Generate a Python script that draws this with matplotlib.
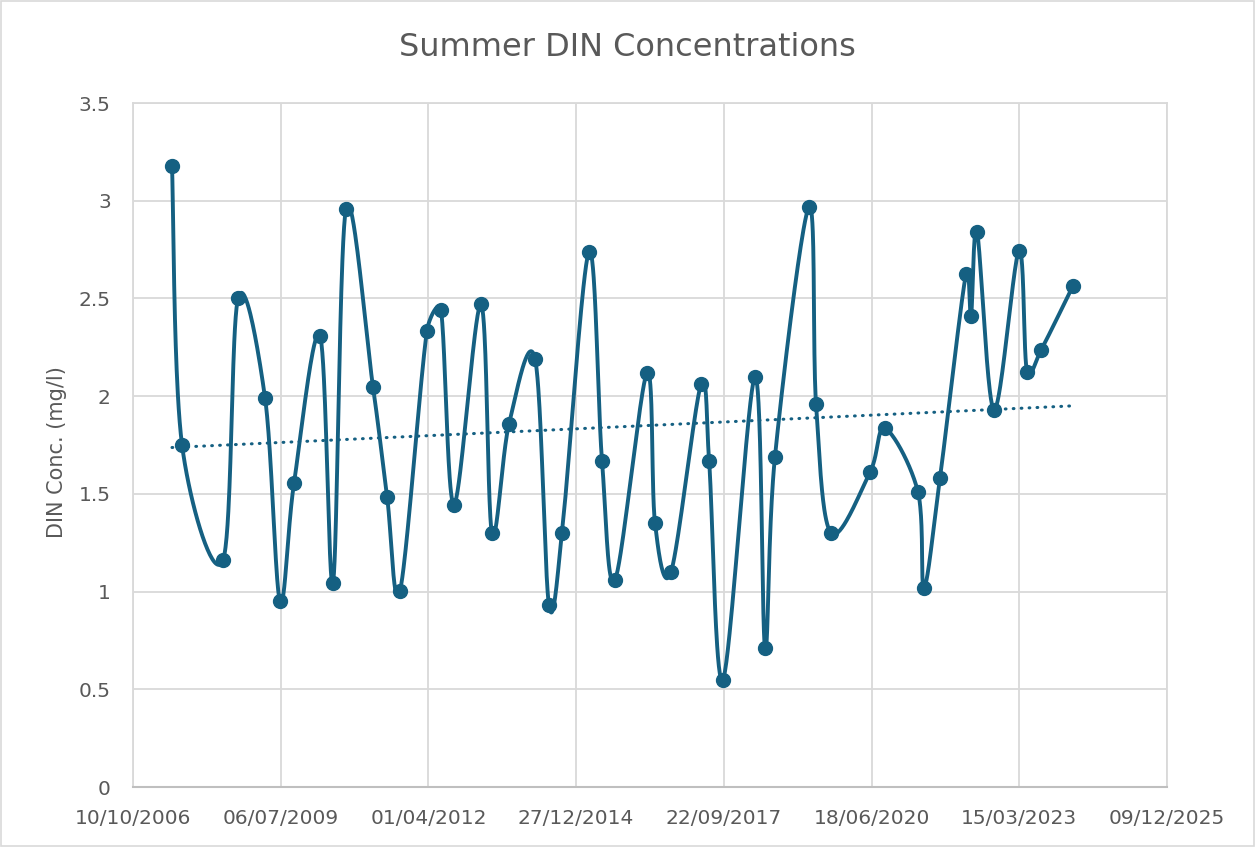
import numpy as np
import pandas as pd
import matplotlib
matplotlib.use('Agg')
import matplotlib.pyplot as plt
import matplotlib.dates as mdates
from matplotlib.patches import Rectangle

# sample dates and summer DIN concentrations (mg/l)
sample_dates = [
    '2007-07-01', '2007-09-07', '2008-06-10', '2008-09-20', '2009-03-22',
    '2009-07-01', '2009-10-04', '2010-03-29', '2010-06-25', '2010-09-21',
    '2011-03-23', '2011-06-26', '2011-09-22', '2012-03-22', '2012-06-25',
    '2012-09-21', '2013-03-23', '2013-06-05', '2013-09-29', '2014-03-24',
    '2014-06-26', '2014-09-22', '2015-03-24', '2015-06-20', '2015-09-16',
    '2016-04-20', '2016-06-13', '2016-09-29', '2017-04-20', '2017-06-14',
    '2017-09-16', '2018-04-21', '2018-06-28', '2018-09-03', '2019-04-22',
    '2019-06-08', '2019-09-17', '2020-06-07', '2020-09-17', '2021-04-28',
    '2021-06-08', '2021-09-24', '2022-03-19', '2022-04-22', '2022-06-02',
    '2022-09-25', '2023-03-13', '2023-05-06', '2023-08-09', '2024-03-13',
]
din_conc = [
    3.18, 1.75, 1.16, 2.50, 1.99,
    0.95, 1.555, 2.31, 1.045, 2.96,
    2.045, 1.485, 1.005, 2.335, 2.44,
    1.445, 2.47, 1.30, 1.86, 2.19,
    0.93, 1.30, 2.74, 1.67, 1.06,
    2.12, 1.35, 1.10, 2.06, 1.67,
    0.55, 2.10, 0.71, 1.69, 2.97,
    1.96, 1.30, 1.61, 1.835, 1.51,
    1.02, 1.58, 2.625, 2.41, 2.84,
    1.93, 2.745, 2.125, 2.235, 2.565,
]

axis_start = '2006-10-10'
axis_end = '2025-12-09'
tick_step_days = 1000
y_ticks = [0, 0.5, 1, 1.5, 2, 2.5, 3, 3.5]

line_color = '#156082'
grid_color = '#D9D9D9'
text_color = '#595959'

W, H = 1255, 847
ax_left, ax_right, ax_top, ax_bottom = 133, 1167, 103, 787


def smooth_curve(px, py, n=40):
    # bezier smoothing like a spreadsheet "smoothed line":
    # control offsets are 1/6 of the neighbour chord, capped at half the segment
    px = np.concatenate([[px[0]], px, [px[-1]]])
    py = np.concatenate([[py[0]], py, [py[-1]]])
    P = np.column_stack([px, py])
    t = np.linspace(0, 1, n)[:, None]
    out = []
    for i in range(1, len(P) - 2):
        p0, p1, p2, p3 = P[i - 1], P[i], P[i + 1], P[i + 2]
        d12 = np.hypot(*(p2 - p1))
        d02 = np.hypot(*(p2 - p0))
        d13 = np.hypot(*(p3 - p1))
        f = 1 / 6 if d02 / 6 < d12 / 2 or d02 == 0 else d12 / 2 / d02
        g = 1 / 6 if d13 / 6 < d12 / 2 or d13 == 0 else d12 / 2 / d13
        c1 = p1 + (p2 - p0) * f
        c2 = p2 - (p3 - p1) * g
        seg = ((1 - t) ** 3) * p1 + 3 * ((1 - t) ** 2) * t * c1 \
            + 3 * (1 - t) * t ** 2 * c2 + t ** 3 * p2
        out.append(seg)
    out = np.vstack(out)
    return out[:, 0], out[:, 1]


x = mdates.date2num(pd.to_datetime(sample_dates))
y = np.array(din_conc)
x0 = mdates.date2num(pd.Timestamp(axis_start))
x1 = mdates.date2num(pd.Timestamp(axis_end))
y0, y1 = 0, 3.5

# smoothing is done in screen pixels, then mapped back to data units
sx_pix = (ax_right - ax_left) / (x1 - x0)
sy_pix = (ax_bottom - ax_top) / (y1 - y0)
cx, cy = smooth_curve((x - x0) * sx_pix, (y - y0) * sy_pix)
sx = cx / sx_pix + x0
sy = cy / sy_pix + y0

fig = plt.figure(figsize=(W / 100, H / 100), dpi=100)
ax = fig.add_axes([ax_left / W, 1 - ax_bottom / H, (ax_right - ax_left) / W, (ax_bottom - ax_top) / H])

ax.plot(sx, sy, color=line_color, lw=2.8, solid_capstyle='round', zorder=3)
ax.plot(x, y, 'o', color=line_color, ms=10, zorder=4)

# linear trendline
coef = np.polyfit(x, y, 1)
tx = np.array([x[0], x[-1]])
ax.plot(tx, np.polyval(coef, tx), color=line_color, lw=2.2, ls=(0, (0.25, 2.35)),
        dash_capstyle='round', zorder=2)

ax.set_xlim(x0, x1)
ax.set_ylim(y0, y1)
ax.set_xticks(np.arange(x0, x1 + 1, tick_step_days))
ax.xaxis.set_major_formatter(mdates.DateFormatter('%d/%m/%Y'))
ax.set_yticks(y_ticks)
ax.set_yticklabels([f'{v:g}' for v in y_ticks])

ax.grid(True, color=grid_color, lw=1.3, zorder=0)
ax.set_axisbelow(True)
ax.tick_params(length=0, labelsize=14.5, labelcolor=text_color, pad=16)
for side in ['left', 'right', 'top']:
    ax.spines[side].set_color(grid_color)
    ax.spines[side].set_linewidth(1.3)
ax.spines['bottom'].set_color('#BFBFBF')
ax.spines['bottom'].set_linewidth(1.5)

ax.set_ylabel('DIN Conc. (mg/l)', fontsize=15, color=text_color)
ax.yaxis.set_label_coords(-0.064, 0.49)

fig.text(0.5, 1 - 47 / H, 'Summer DIN Concentrations', ha='center', va='center',
         fontsize=23, color=text_color)

fig.patches.append(Rectangle((0.001, 0.001), 0.998, 0.998, transform=fig.transFigure,
                             fill=False, edgecolor=grid_color, lw=1.2))

fig.savefig('out.png', dpi=100)
